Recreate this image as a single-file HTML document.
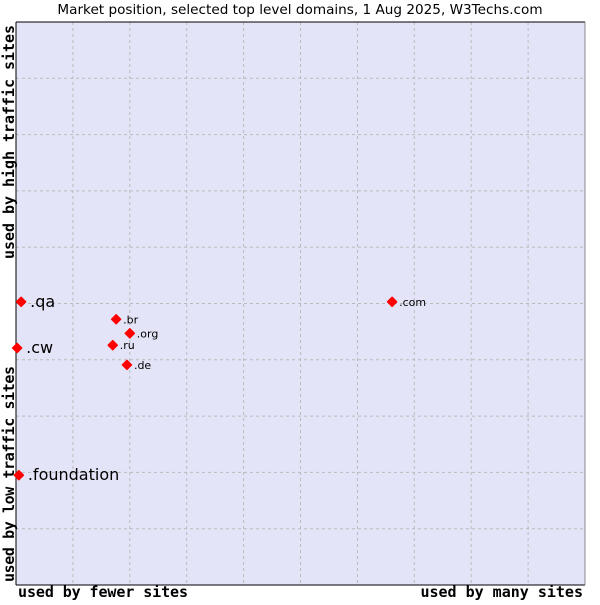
<!DOCTYPE html>
<html><head><meta charset="utf-8"><style>
body{margin:0;background:#fff;width:600px;height:600px;overflow:hidden}
svg text{font-family:"DejaVu Sans","Liberation Sans",sans-serif}
.mono{font-family:"DejaVu Sans Mono","Liberation Mono",monospace}
</style></head><body>
<svg id="chart" width="600" height="600">
<text x="300" y="14" text-anchor="middle" font-size="13.6" fill="#000">Market position, selected top level domains, 1 Aug 2025, W3Techs.com</text>
<rect x="16" y="22" width="569" height="563" fill="#e3e4f8" stroke="none"/>
<g id="grid"></g>
<line x1="16" y1="22" x2="585" y2="22" stroke="#000"/>
<line x1="16" y1="585" x2="585" y2="585" stroke="#000"/>
<line x1="16" y1="22" x2="16" y2="585" stroke="#000"/>
<line x1="585" y1="22" x2="585" y2="585" stroke="#888"/>
<g id="points"></g>
<text class="mono" x="18" y="597" font-size="15" font-weight="bold" textLength="170">used by fewer sites</text>
<text class="mono" x="583" y="597" font-size="15" font-weight="bold" text-anchor="end">used by many sites</text>
<text class="mono" transform="translate(14,259) rotate(-90)" font-size="15" font-weight="bold" textLength="234">used by high traffic sites</text>
<text class="mono" transform="translate(14,582) rotate(-90)" font-size="15" font-weight="bold" textLength="216">used by low traffic sites</text>
</svg>
<script>
const labels=[".qa",".cw",".foundation",".com",".br",".org",".ru",".de"];
const xValues=[0.9,0.2,0.5,66.1,17.6,20.0,17.0,19.5];
const yValues=[50.3,42.1,19.5,50.3,47.2,44.7,42.6,39.1];
const bigLabel=[true,true,true,false,false,false,false,false];
const X0=16,X1=585,Y0=585,Y1=22;
function sx(v){return X0+v/100*(X1-X0);}
function sy(v){return Y0-v/100*(Y0-Y1);}
const ns="http://www.w3.org/2000/svg";
const grid=document.getElementById('grid');
for(let i=1;i<10;i++){
 const l=document.createElementNS(ns,'line');
 
 
 l.setAttribute('x1',sx(i*10));l.setAttribute('x2',sx(i*10));l.setAttribute('y1',Y1);l.setAttribute('y2',Y0);
 l.setAttribute('stroke','#bbb');l.setAttribute('stroke-dasharray','3,3');grid.appendChild(l);
 const h=document.createElementNS(ns,'line');
 
 
 h.setAttribute('y1',sy(i*10));h.setAttribute('y2',sy(i*10));h.setAttribute('x1',X0);h.setAttribute('x2',X1);
 h.setAttribute('stroke','#bbb');h.setAttribute('stroke-dasharray','3,3');grid.appendChild(h);
}
const pts=document.getElementById('points');
labels.forEach((lab,i)=>{
 const x=sx(xValues[i]),y=sy(yValues[i]);
 const p=document.createElementNS(ns,'polygon');
 
 
 p.setAttribute('points',`${x},${y-4.5} ${x+4.5},${y} ${x},${y+4.5} ${x-4.5},${y}`);
 p.setAttribute('fill','#f00');p.setAttribute('stroke','#f00');p.setAttribute('stroke-linejoin','round');p.setAttribute('stroke-width','1.5');
 pts.appendChild(p);
 const t=document.createElementNS(ns,'text');
 
 
 t.setAttribute('x',x+(bigLabel[i]?9:7));t.setAttribute('y',y+(bigLabel[i]?5:4));
 t.setAttribute('font-size',bigLabel[i]?'16':'11');
 t.textContent=lab;pts.appendChild(t);
});
</script>
</body></html>
